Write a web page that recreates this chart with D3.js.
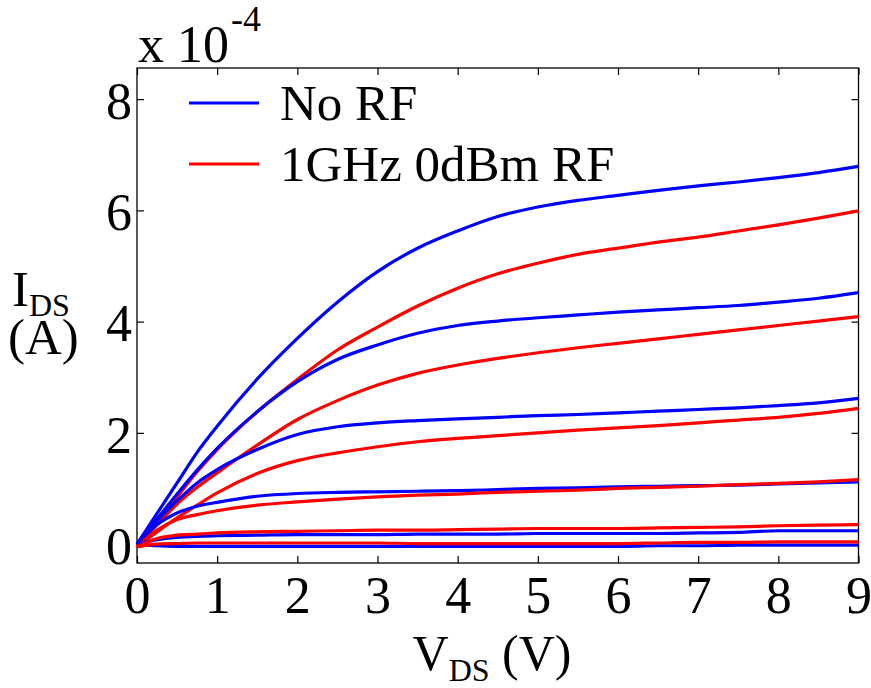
<!DOCTYPE html>
<html>
<head>
<meta charset="utf-8">
<script src="https://cdn.jsdelivr.net/npm/d3@7"></script>
<style>
	body { margin: 0; background: #fff; }
	svg text { font-family: "Liberation Serif", "Times New Roman", serif; fill: #000; }
</style>
</head>
<body>
<div id="chart"></div>
<script>
// drain voltage grid (V) and currents in units of 1e-4 A
var vds = [0, 0.25, 0.5, 0.75, 1, 1.5, 2, 2.5, 3, 3.5, 4, 4.5, 5, 5.5, 6, 6.5, 7, 7.5, 8, 8.5, 9];

// No RF
var noRf1 = [0, 0.55, 1.1, 1.65, 2.12, 2.97, 3.70, 4.35, 4.90, 5.32, 5.63, 5.89, 6.06, 6.18, 6.27, 6.36, 6.44, 6.51, 6.59, 6.68, 6.79];
var noRf2 = [0, 0.45, 0.9, 1.33, 1.72, 2.38, 2.92, 3.32, 3.58, 3.79, 3.93, 4.01, 4.07, 4.12, 4.17, 4.21, 4.25, 4.29, 4.35, 4.42, 4.52];
var noRf3 = [0, 0.42, 0.78, 1.1, 1.34, 1.70, 1.97, 2.11, 2.18, 2.22, 2.25, 2.28, 2.31, 2.33, 2.36, 2.39, 2.42, 2.45, 2.49, 2.54, 2.62];
var noRf4 = [0, 0.35, 0.56, 0.68, 0.75, 0.86, 0.91, 0.93, 0.94, 0.95, 0.96, 0.98, 1.0, 1.01, 1.03, 1.04, 1.05, 1.06, 1.08, 1.10, 1.12];
var noRf5 = [0, 0.08, 0.12, 0.14, 0.15, 0.16, 0.17, 0.17, 0.17, 0.18, 0.18, 0.18, 0.19, 0.19, 0.19, 0.19, 0.20, 0.21, 0.24, 0.24, 0.24];
var noRf6 = [0, -0.03, -0.04, -0.04, -0.04, -0.04, -0.04, -0.04, -0.04, -0.04, -0.04, -0.04, -0.04, -0.04, -0.04, -0.03, -0.03, -0.02, -0.02, -0.02, -0.02];

// 1GHz 0dBm RF
var rf1 = [-0.05, 0.42, 0.85, 1.3, 1.70, 2.38, 2.96, 3.49, 3.90, 4.28, 4.60, 4.86, 5.05, 5.21, 5.32, 5.43, 5.52, 5.63, 5.74, 5.86, 5.99];
var rf2 = [-0.05, 0.35, 0.72, 1.02, 1.28, 1.78, 2.24, 2.58, 2.86, 3.07, 3.22, 3.34, 3.44, 3.53, 3.61, 3.69, 3.77, 3.85, 3.93, 4.01, 4.09];
var rf3 = [-0.05, 0.22, 0.47, 0.7, 0.92, 1.27, 1.5, 1.64, 1.75, 1.84, 1.90, 1.95, 2.0, 2.05, 2.09, 2.13, 2.18, 2.23, 2.28, 2.35, 2.44];
var rf4 = [-0.05, 0.25, 0.44, 0.53, 0.6, 0.7, 0.76, 0.81, 0.85, 0.88, 0.9, 0.93, 0.95, 0.97, 1.0, 1.02, 1.04, 1.07, 1.09, 1.12, 1.16];
var rf5 = [-0.05, 0.1, 0.16, 0.18, 0.2, 0.22, 0.23, 0.24, 0.25, 0.25, 0.26, 0.27, 0.28, 0.28, 0.28, 0.29, 0.3, 0.31, 0.33, 0.34, 0.35];
var rf6 = [-0.05, 0.0, 0.01, 0.02, 0.02, 0.02, 0.02, 0.02, 0.02, 0.01, 0.01, 0.01, 0.01, 0.01, 0.01, 0.02, 0.03, 0.03, 0.04, 0.04, 0.04];

var xTicks = [0, 1, 2, 3, 4, 5, 6, 7, 8, 9];
var yTicks = [0, 2, 4, 6, 8];
var legendNames = ["No RF", "1GHz 0dBm RF"];

var BLUE = "#0000ff";
var RED = "#ff0000";

var W = 871, H = 688;
var plotL = 137, plotT = 68, plotR = 858.5, plotB = 563;

var svg = d3.select("#chart").append("svg")
	.attr("width", W)
	.attr("height", H);

var x = d3.scaleLinear().domain([0, 9]).range([plotL, plotR]);
var y = d3.scaleLinear().domain([-0.34, 8.56]).range([plotB, plotT]);

//axes, ticks pointing inward on all four sides
svg.append("g")
	.attr("transform", "translate(0," + plotB + ")")
	.call(d3.axisBottom(x).tickValues(xTicks).tickSizeInner(-7).tickSizeOuter(0).tickPadding(13))
	.call(styleAxis);

svg.append("g")
	.attr("transform", "translate(0," + plotT + ")")
	.call(d3.axisTop(x).tickValues(xTicks).tickSizeInner(-7).tickSizeOuter(0).tickFormat(""))
	.call(styleAxis);

svg.append("g")
	.attr("transform", "translate(" + plotL + ",0)")
	.call(d3.axisLeft(y).tickValues(yTicks).tickSizeInner(-7).tickSizeOuter(0).tickPadding(5))
	.call(styleAxis)
	.selectAll("text").attr("dy", "0.37em");

svg.append("g")
	.attr("transform", "translate(" + plotR + ",0)")
	.call(d3.axisRight(y).tickValues(yTicks).tickSizeInner(-7).tickSizeOuter(0).tickFormat(""))
	.call(styleAxis);

svg.append("rect")
	.attr("x", plotL)
	.attr("y", plotT)
	.attr("width", plotR - plotL)
	.attr("height", plotB - plotT)
	.attr("fill", "none")
	.attr("stroke", "#000")
	.attr("stroke-width", 1.3);

function styleAxis(g) {
	g.select(".domain").remove();
	g.selectAll(".tick line").attr("stroke", "#000").attr("stroke-width", 1.2);
	g.selectAll("text")
		.style("font-family", "'Liberation Serif', 'Times New Roman', serif")
		.style("font-size", "52px")
		.attr("fill", "#000");
}

//curves
var line = d3.line()
	.x(function(d, i) { return x(vds[i]); })
	.y(function(d) { return y(d); })
	.curve(d3.curveMonotoneX);

var curves = [
	{vals: noRf1, color: BLUE}, {vals: rf1, color: RED},
	{vals: noRf2, color: BLUE}, {vals: rf2, color: RED},
	{vals: noRf3, color: BLUE}, {vals: rf3, color: RED},
	{vals: noRf4, color: BLUE}, {vals: rf4, color: RED},
	{vals: noRf6, color: BLUE}, {vals: noRf5, color: BLUE},
	{vals: rf6, color: RED}, {vals: rf5, color: RED}
];

svg.append("g")
	.selectAll("path")
	.data(curves)
	.enter().append("path")
	.attr("d", function(d) { return line(d.vals); })
	.attr("fill", "none")
	.attr("stroke", function(d) { return d.color; })
	.attr("stroke-width", 3.2)
	.attr("stroke-linejoin", "round");

//legend
var legend = svg.append("g");
[BLUE, RED].forEach(function(c, i) {
	var ly = 103 + i * 61;
	legend.append("line")
		.attr("x1", 189).attr("x2", 259)
		.attr("y1", ly).attr("y2", ly)
		.attr("stroke", c)
		.attr("stroke-width", 3.2);
	legend.append("text")
		.attr("x", 280)
		.attr("y", ly + 17)
		.style("font-size", "51px")
		.text(legendNames[i]);
});

//exponent label
var expo = svg.append("text")
	.attr("x", 138)
	.attr("y", 62)
	.style("font-size", "52px");
expo.append("tspan").text("x 10");
expo.append("tspan")
	.attr("dy", -31)
	.attr("dx", 2)
	.style("font-size", "36px")
	.text("-4");

//y label
var ylab = svg.append("text")
	.attr("x", 12)
	.attr("y", 306)
	.style("font-size", "51px");
ylab.append("tspan").text("I");
ylab.append("tspan")
	.attr("dy", 10)
	.style("font-size", "32px")
	.text("DS");
svg.append("text")
	.attr("x", 8)
	.attr("y", 354)
	.style("font-size", "51px")
	.text("(A)");

//x label
var xlab = svg.append("text")
	.attr("x", 492)
	.attr("y", 670)
	.attr("text-anchor", "middle")
	.style("font-size", "50px");
xlab.append("tspan").text("V");
xlab.append("tspan")
	.attr("dy", 11)
	.style("font-size", "32px")
	.text("DS");
xlab.append("tspan")
	.attr("dy", -11)
	.text(" (V)");
</script>
</body>
</html>
